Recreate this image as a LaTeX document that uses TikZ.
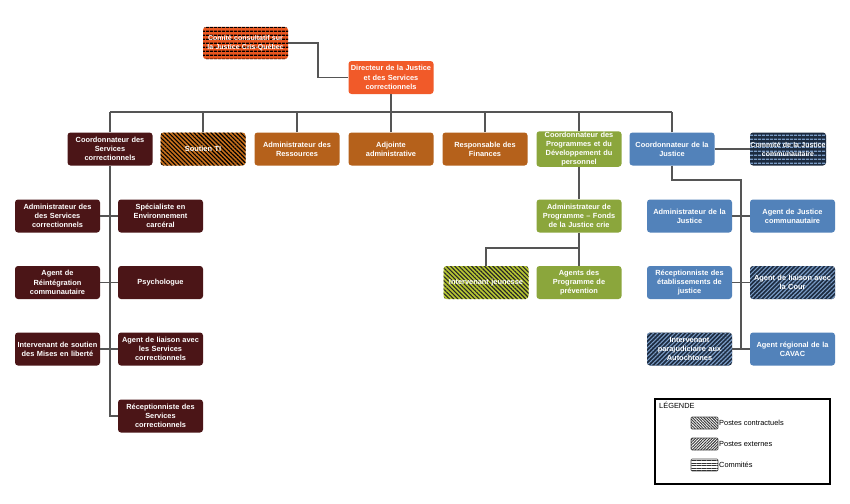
\documentclass[tikz,border=0pt]{standalone}
\usepackage{fontspec}
\setsansfont{Liberation Sans}
\usetikzlibrary{patterns.meta}
\definecolor{dirorange}{HTML}{F15A29}
\definecolor{comorange}{HTML}{E8561F}
\definecolor{maroon}{HTML}{4B1517}
\definecolor{brownor}{HTML}{B5611B}
\definecolor{tiorange}{HTML}{C8701C}
\definecolor{grn}{HTML}{8BA63C}
\definecolor{ygrn}{HTML}{B8C832}
\definecolor{blu}{HTML}{5282BA}
\definecolor{navy}{HTML}{1C2B40}
\definecolor{ltblu}{HTML}{7A9CC6}
\definecolor{conn}{HTML}{555555}
\tikzset{
  box/.style={rounded corners=3pt, minimum width=85pt, minimum height=33pt, text width=84pt,
    align=center, font=\sffamily\bfseries\fontsize{7.4}{9.2}\selectfont, text=white, inner sep=0.5pt},
  smallbox/.style={box, font=\sffamily\bfseries\fontsize{7}{9}\selectfont},
  contract/.style={postaction={pattern={Lines[angle=-45,distance=3pt,line width=1.1pt]}, pattern color=#1}},
  externe/.style={postaction={pattern={Lines[angle=45,distance=3pt,line width=1.1pt]}, pattern color=#1}},
  commite/.style={postaction={pattern={Lines[angle=0,distance=4pt,line width=1.5pt]}, pattern color=#1}},
  link/.style={draw=conn, line width=1.1pt},
  legtext/.style={font=\sffamily\fontsize{7.4}{8}\selectfont, anchor=west, inner sep=0pt},
  swatch/.style={draw=black!70, line width=0.6pt, rounded corners=1pt, fill=white}
}
\begin{document}
\begin{tikzpicture}[x=1pt,y=-1pt]
\useasboundingbox (0,0) rectangle (850,503);
\fill[white] (0,0) rectangle (850,503);

% top
\node[smallbox, minimum width=85pt, minimum height=32pt, text width=84pt, fill=comorange, commite=black] (com) at (245.5,43) {Comité consultatif sur\\la Justice Cris-Québec};
\node[box, fill=dirorange] (dir) at (391,77.5) {Directeur de la Justice\\et des Services\\correctionnels};

% row 2
\node[box, fill=maroon] (csc) at (110,149) {Coordonnateur des\\Services\\correctionnels};
\node[box, fill=tiorange, contract=black] (ti) at (203,149) {Soutien TI};
\node[box, fill=brownor] (adr) at (297,149) {Administrateur des\\Ressources};
\node[box, fill=brownor] (adj) at (391,149) {Adjointe\\administrative};
\node[box, fill=brownor] (fin) at (485,149) {Responsable des\\Finances};
\node[box, fill=grn] (cp) at (579,149) {Coordonnateur des\\Programmes et du\\Développement du\\personnel};
\node[box, fill=blu] (cj) at (672,149) {Coordonnateur de la\\Justice};
\node[smallbox, minimum width=76pt, text width=74pt, fill=navy, commite=ltblu] (cjc) at (788,149) {\makebox[74pt]{Commité de la Justice}\\communautaire};

% left column
\node[box, fill=maroon] (asc) at (57.5,216) {Administrateur des\\des Services\\correctionnels};
\node[box, fill=maroon] (spe) at (160.5,216) {Spécialiste en\\Environnement\\carcéral};
\node[box, fill=maroon] (rei) at (57.5,282.5) {Agent de\\Réintégration\\communautaire};
\node[box, fill=maroon] (psy) at (160.5,282.5) {Psychologue};
\node[box, fill=maroon] (sou) at (57.5,349) {Intervenant de soutien\\des Mises en liberté};
\node[box, fill=maroon] (lia) at (160.5,349) {Agent de liaison avec\\les Services\\correctionnels};
\node[box, fill=maroon] (rec) at (160.5,416) {Réceptionniste des\\Services\\correctionnels};

% green column
\node[box, fill=grn] (ap) at (579,216) {Administrateur de\\Programme – Fonds\\de la Justice crie};
\node[box, fill=grn] (agp) at (579,282.5) {Agents des\\Programme de\\prévention};
\node[box, fill=ygrn, contract=black!85] (ij) at (486,282.5) {Intervenant jeunesse};

% blue column
\node[box, fill=blu] (adj2) at (689.5,216) {Administrateur de la\\Justice};
\node[box, fill=blu] (ajc) at (792.5,216) {Agent de Justice\\communautaire};
\node[box, fill=blu] (rej) at (689.5,282.5) {Réceptionniste des\\établissements de\\justice};
\node[box, fill=navy, externe=ltblu] (alc) at (792.5,282.5) {Agent de liaison avec\\la Cour};
\node[box, fill=navy, externe=ltblu] (ipa) at (689.5,349) {Intervenant\\parajudiciaire aux\\Autochtones};
\node[box, fill=blu] (cav) at (792.5,349) {Agent régional de la\\CAVAC};

% connectors
\coordinate (j1) at (318,43);
\draw[link] (com.east) -- (j1) |- (dir.west);
\coordinate (barL) at (110,112);
\coordinate (barR) at (672,112);
\draw[link] (dir.south) -- (dir.south |- barL);
\draw[link] (barL) -- (barR);
\foreach \n in {csc,ti,adr,adj,fin,cp,cj}{\draw[link] (\n.north) -- (\n.north |- barL);}
\draw[link] (cj.east) -- (cjc.west);

\draw[link] (csc.south) |- (rec.west);
\draw[link] (asc.east) -- (spe.west);
\draw[link] (rei.east) -- (psy.west);
\draw[link] (sou.east) -- (lia.west);

\draw[link] (cp.south) -- (ap.north);
\draw[link] (ap.south) -- (agp.north);
\coordinate (g1) at (579,248);
\draw[link] (g1) -| (ij.north);

\coordinate (b1) at (741,180);
\coordinate (b2) at (741,349);
\draw[link] (cj.south) |- (b1) -- (b2);
\draw[link] (adj2.east) -- (ajc.west);
\draw[link] (rej.east) -- (alc.west);
\draw[link] (ipa.east) -- (cav.west);

% legend
\node[draw=black, line width=1.2pt, minimum width=175pt, minimum height=85pt, inner sep=0pt] (leg) at (742.5,441.5) {};
\node[legtext] (legt) at (659,405.5) {LÉGENDE};
\node[swatch, minimum width=27pt, minimum height=12pt, inner sep=0pt, postaction={pattern={Lines[angle=-45,distance=2pt,line width=0.9pt]}, pattern color=black!80}] (s1) at (704.5,423) {};
\node[swatch, minimum width=27pt, minimum height=12pt, inner sep=0pt, postaction={pattern={Lines[angle=45,distance=2pt,line width=0.9pt]}, pattern color=black!80}] (s2) at (704.5,444) {};
\node[swatch, minimum width=27pt, minimum height=12pt, inner sep=0pt, postaction={pattern={Lines[angle=0,distance=2.5pt,line width=0.8pt]}, pattern color=black!80}] (s3) at (704.5,465) {};
\node[legtext] (l1) at (719,423) {Postes contractuels};
\node[legtext] (l2) at (719,444) {Postes externes};
\node[legtext] (l3) at (719,465) {Commités};
\end{tikzpicture}
\end{document}
